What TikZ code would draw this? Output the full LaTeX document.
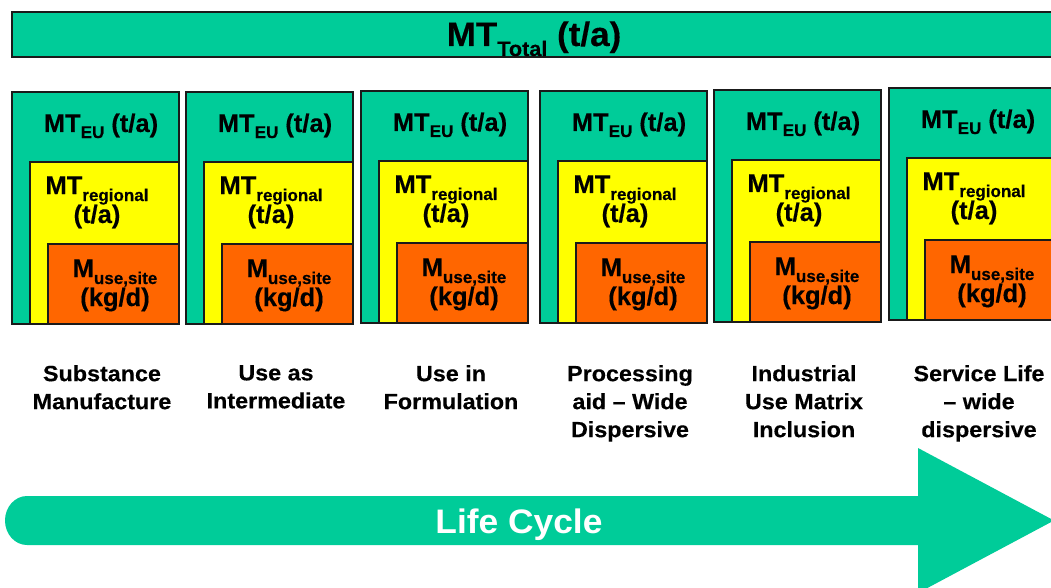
\documentclass[tikz,border=0pt]{standalone}
\usepackage{fontspec}
\usepackage{graphicx}
\setmainfont{Liberation Sans}[FakeStretch=1.03]
\newfontfamily\boxfont{Liberation Sans Bold}[FakeStretch=1.0,FakeBold=0.3]
\newfontfamily\labfont{Liberation Sans Bold}[FakeStretch=1.06,FakeBold=0.3]
\newfontfamily\topfont{Liberation Sans Bold}[FakeStretch=1.03,FakeBold=0.3]
\newfontfamily\lcfont{Liberation Sans}[FakeStretch=1.04]
\definecolor{tealc}{HTML}{00CC99}
\definecolor{yelc}{HTML}{FFFF00}
\definecolor{orac}{HTML}{FF6600}
\definecolor{edgec}{HTML}{1A1A1A}
\newcommand{\mysub}[3]{\raisebox{-#1pt}{\fontsize{#2pt}{#2pt}\selectfont #3}}
\begin{document}
\begin{tikzpicture}[x=1pt,y=-1pt,
  frame/.style={draw=edgec,line width=1.2pt,inner sep=0pt,outer sep=0pt,anchor=north west},
  boxtext/.style={anchor=base,inner sep=0pt,font=\boxfont\fontsize{25.5pt}{25.5pt}\selectfont},
  lab/.style={anchor=north,inner sep=0pt,align=center,font=\labfont\fontsize{22pt}{28pt}\selectfont}]
\useasboundingbox (0,0) rectangle (1051,588);
\clip (0,0) rectangle (1051,588);
\fill[white] (0,0) rectangle (1051,588);
% top bar
\node[frame,fill=tealc,minimum width=1060pt,minimum height=45pt] (total) at (12,12) {};
\node[anchor=base,inner sep=0pt,font=\topfont\fontsize{34pt}{34pt}\selectfont] (totaltext) at (534,46) {MT\mysub{10}{21}{Total} (t/a)};
% columns
\foreach \x/\y/\i/\la in {12/92/1/{Substance\\Manufacture},
  186/92/2/{Use as\\Intermediate},
  361/91/3/{Use in\\Formulation},
  540/91/4/{Processing\\aid – Wide\\Dispersive},
  714/90/5/{Industrial\\Use Matrix\\Inclusion},
  889/88/6/{Service Life\\– wide\\dispersive}}{
  \node[frame,fill=tealc,minimum width=167pt,minimum height=232pt] (eu\i) at (\x,\y) {};
  \node[frame,fill=yelc,minimum width=149pt,minimum height=162pt] (reg\i) at (\x+18,\y+70) {};
  \node[frame,fill=orac,minimum width=131pt,minimum height=80pt] (site\i) at (\x+36,\y+152) {};
  \node[boxtext] (eut\i) at (\x+89,\y+40) {MT\mysub{6}{17}{EU} (t/a)};
  \node[boxtext] (regt\i) at (\x+85,\y+102) {MT\mysub{7}{17}{regional}};
  \node[boxtext] (regu\i) at (\x+85,\y+131) {(t/a)};
  \node[boxtext] (sitet\i) at (\x+103,\y+185) {M\mysub{7}{17}{use,site}};
  \node[boxtext] (siteu\i) at (\x+103,\y+214) {(kg/d)};
  \node[lab] (lab\i) at (\x+90,365) {\la};
}
% life cycle arrow
\fill[tealc] (918,496) -- (27,496) arc[start angle=270,end angle=90,x radius=22,y radius=24.5]
  -- (918,545) -- (918,593) -- (1054,520.5) -- (918,448) -- cycle;
\node[anchor=base,inner sep=0pt,text=white,font=\lcfont\fontsize{34pt}{34pt}\selectfont\bfseries] (lc) at (519,533) {Life Cycle};
\end{tikzpicture}
\end{document}
